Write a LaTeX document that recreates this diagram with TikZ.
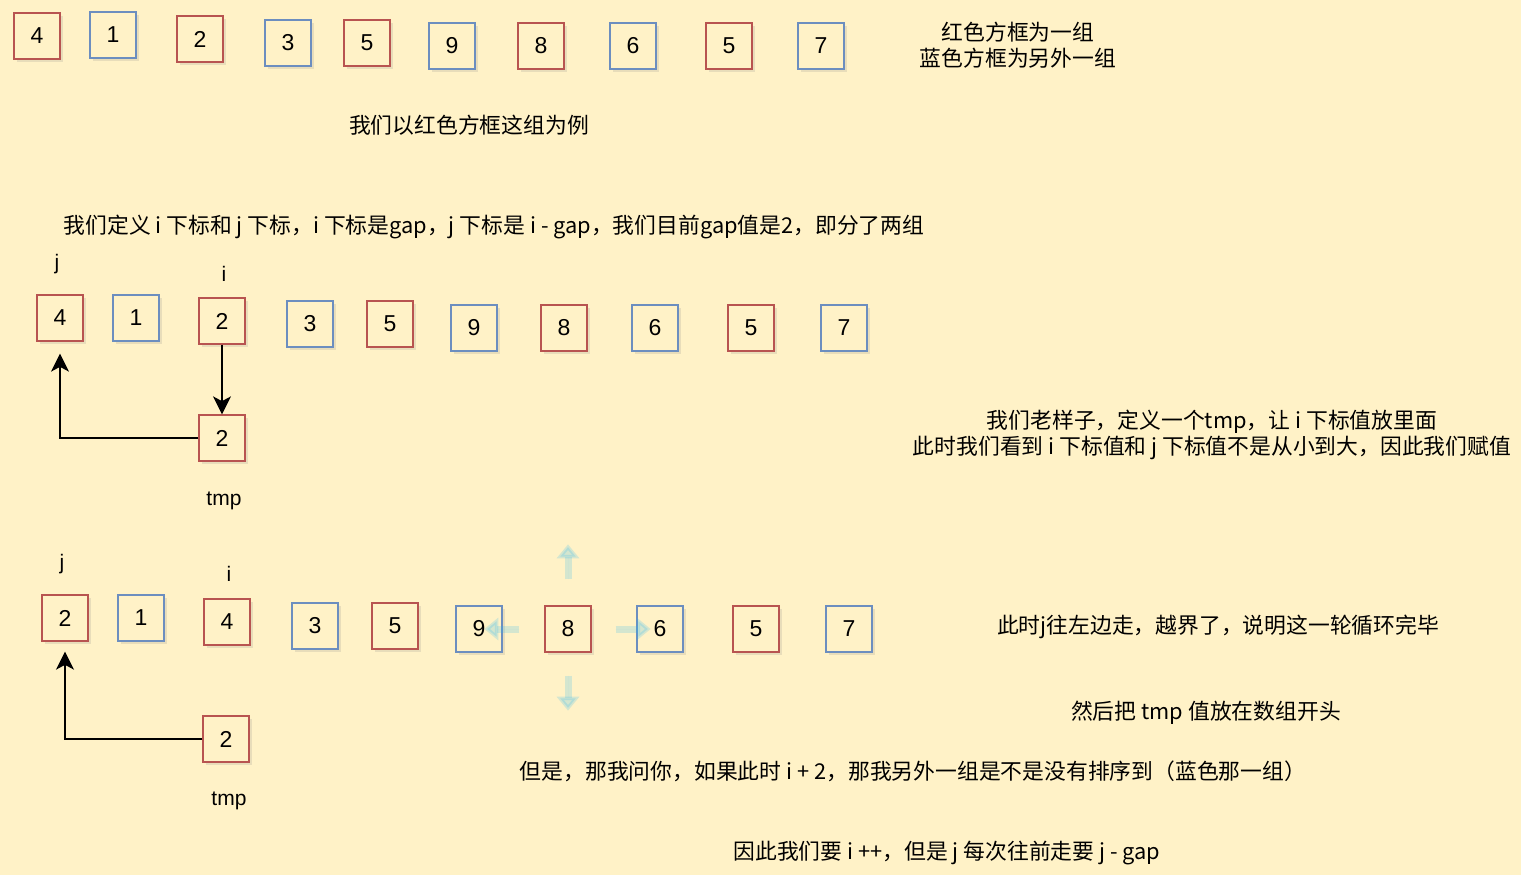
\documentclass[tikz,border=0pt]{standalone}
\usepackage{fontspec}
\setmainfont{Liberation Sans}
\newfontfamily\cjk{Noto Sans CJK SC}
\usepackage{tikz}
\usetikzlibrary{arrows.meta, calc, shadows}

\definecolor{bgyellow}{HTML}{FFF2C7}
\definecolor{grpred}{HTML}{B85450}
\definecolor{grpblue}{HTML}{6C8EBF}
\definecolor{hoverblue}{HTML}{29B6F2}

\begin{document}
\begin{tikzpicture}[x=1pt, y=-1pt,
	nodes={inner sep=0pt},
	cell/.style={draw, line width=1.3pt, fill=bgyellow,
		minimum width=46pt, minimum height=46pt,
		font=\fontsize{23}{23}\selectfont,
		drop shadow={shadow xshift=3pt, shadow yshift=-3pt, opacity=0.18}},
	redcell/.style={cell, draw=grpred},
	bluecell/.style={cell, draw=grpblue},
	note/.style={font=\cjk\fontsize{21.8}{26}\selectfont, align=center},
	lbl/.style={font=\fontsize{21}{21}\selectfont},
	conn/.style={-{Stealth[length=15pt, width=15pt, inset=4pt, scale=1.2]}, line width=1.4pt},
	hover/.style={-{Triangle[length=14pt, width=22pt]}, line width=7pt,
		draw=hoverblue, fill=hoverblue, opacity=0.2}]
	
	\fill[bgyellow] (0,0) rectangle (1521,875);
	\useasboundingbox (0,0) rectangle (1521,875);
	
	% first row: the two groups
	\foreach \v/\x/\y/\s [count=\k] in {4/37/36/redcell, 1/113/35/bluecell,
		2/200/39/redcell, 3/288/43/bluecell, 5/367/43/redcell, 9/452/46/bluecell,
		8/541/46/redcell, 6/633/46/bluecell, 5/729/46/redcell, 7/821/46/bluecell}
	{\node[\s] (top\k) at (\x,\y) {\v};}
	\node[note] (groups) at (1018,45) {红色方框为一组\\蓝色方框为另外一组};
	\node[note] (example) at (469,125) {我们以红色方框这组为例};
	
	% second row: i = gap, j = i - gap
	\node[note] (define) at (494,227) {我们定义 i 下标和 j 下标，i 下标是gap，j 下标是 i - gap，我们目前gap值是2，即分了两组};
	\foreach \v/\x/\y/\s [count=\k] in {4/60/318/redcell, 1/136/318/bluecell,
		2/222/321/redcell, 3/310/324/bluecell, 5/390/324/redcell, 9/474/328/bluecell,
		8/564/328/redcell, 6/655/328/bluecell, 5/751/328/redcell, 7/844/328/bluecell}
	{\node[\s] (mid\k) at (\x,\y) {\v};}
	\node[lbl] (midj) at (57,264) {j};
	\node[lbl] (midi) at (224,274) {i};
	\node[redcell] (tmpA) at (222,438) {2};
	\node[lbl] (tmpAlbl) at (224,501) {tmp};
	\coordinate (midjin) at ([yshift=-12pt]mid1.south);
	\draw[conn] (mid3.south) -- (tmpA.north);
	\draw[conn] (tmpA.west) -| (midjin);
	\node[note] (assign) at (1212,435) {我们老样子，定义一个tmp，让 i 下标值放里面\\此时我们看到 i 下标值和 j 下标值不是从小到大，因此我们赋值};
	
	% third row: j walks out of range
	\foreach \v/\x/\y/\s [count=\k] in {2/65/618/redcell, 1/141/618/bluecell,
		4/227/622/redcell, 3/315/626/bluecell, 5/395/626/redcell, 9/479/629/bluecell,
		8/568/629/redcell, 6/660/629/bluecell, 5/756/629/redcell, 7/849/629/bluecell}
	{\node[\s] (low\k) at (\x,\y) {\v};}
	\node[lbl] (lowj) at (62,564) {j};
	\node[lbl] (lowi) at (229,574) {i};
	\node[redcell] (tmpB) at (226,739) {2};
	\node[lbl] (tmpBlbl) at (229,801) {tmp};
	\coordinate (lowjin) at ([yshift=-10pt]low1.south);
	\draw[conn] (tmpB.west) -| (lowjin);
	
	% faint hover arrows round the 8
	\draw[hover] ([yshift=26pt]low7.north) -- ([yshift=61pt]low7.north);
	\draw[hover] ([yshift=-23pt]low7.south) -- ([yshift=-58pt]low7.south);
	\draw[hover] ([xshift=-25pt]low7.west) -- ([xshift=-60pt]low7.west);
	\draw[hover] ([xshift=24pt]low7.east) -- ([xshift=59pt]low7.east);
	
	\node[note] (outside) at (1218,627) {此时j往左边走，越界了，说明这一轮循环完毕};
	\node[note] (head) at (1206,713) {然后把 tmp 值放在数组开头};
	\node[note] (question) at (913,771) {但是，那我问你，如果此时 i + 2，那我另外一组是不是没有排序到（蓝色那一组）};
	\node[note] (stepnote) at (947,853) {因此我们要 i ++，但是 j 每次往前走要 j - gap};
	
\end{tikzpicture}
\end{document}
